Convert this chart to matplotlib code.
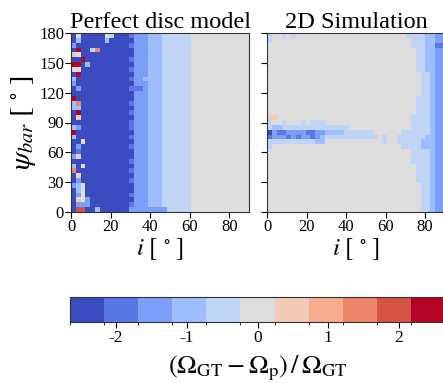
import matplotlib
matplotlib.use("Agg")
import matplotlib.pyplot as plt
import numpy as np
from matplotlib.colors import BoundaryNorm

plt.rcParams["font.family"] = ["Liberation Serif", "DejaVu Serif"]
plt.rcParams["mathtext.fontset"] = "stix"
plt.rcParams["axes.unicode_minus"] = False

# colour class of every cell
# 0..a = class index of the 11-step colour bar, rows from psi=180 (top) to psi=0
disc_rows = [
    "050000054000 1 222333 444444 555555555555",
    "030000030000 0 222333 444444 555555555555",
    "200000000000 1 222333 444444 555555555555",
    "0a0048000000 0 222333 444444 555555555555",
    "650000000000 0 222333 444444 555555555555",
    "00a000000000 1 222333 444444 555555555555",
    "aa0300000000 0 222333 444444 555555555555",
    "550000000000 1 222333 444444 555555555555",
    "0a0000000000 0 222333 444444 555555555555",
    "300000000000 1 223333 444444 555555555555",
    "200000000000 0 222333 444444 555555555555",
    "020000000000 1 112333 444444 555555555555",
    "000000000000 0 222333 444444 555555555555",
    "a00000000000 0 222333 444444 555555555555",
    "380000000000 1 222333 444444 555555555555",
    "330000000000 0 222333 444444 555555555555",
    "0a0000000000 1 222333 444444 555555555555",
    "060000000000 0 222333 444444 555555555555",
    "000000000000 1 222333 444444 555555555555",
    "320000000000 1 222333 444444 555555555555",
    "a00000000000 0 222333 444444 555555555555",
    "300000000000 1 222333 444444 555555555555",
    "005000000000 0 222333 444444 555555555555",
    "020000000000 1 222333 444444 555555555555",
    "010000000000 0 222333 444444 555555555555",
    "260000000000 0 222333 444444 555555555555",
    "000000000000 1 222333 444444 555555555555",
    "305000000000 0 222333 444444 555555555555",
    "800000000000 1 222333 444444 555555555555",
    "060000000000 0 222333 444444 555555555555",
    "020000000000 1 222333 444444 555555555555",
    "235000000000 0 222333 444444 555555555555",
    "035000000000 0 222333 444444 555555555555",
    "025000000000 1 222333 444444 555555555555",
    "065200000000 0 222333 444444 555555555555",
    "022200000000 1 222333 444444 555555555555",
    "099003000000 2 222222 244444 555555555555",
]

sim_rows = [
    "4554545555 5555555555 5555555554 4443322",
    "4555555555 5555555555 5555555555 4443322",
    "5555555555 5555555555 5555555555 4443311",
    "5555555555 5555555555 5555555555 5443322",
    "5555555555 5555555555 5555555555 5443322",
    "5555555555 5555555555 5555555555 5443322",
    "5555555555 5555555555 5555555555 5443322",
    "5555555555 5555555555 5555555555 5443322",
    "5555555555 5555555555 5555555555 5544322",
    "5555555555 5555555555 5555555555 5544322",
    "5555555555 5555555555 5555555555 5544322",
    "5555555555 5555555555 5555555555 5544322",
    "5555555555 5555555555 5555555555 5544322",
    "5555555555 5555555555 5555555555 5444322",
    "5555555555 5555555555 5555555555 5444322",
    "5555555555 5555555555 5555555555 5444322",
    "5555555555 5555555555 5555555555 5444322",
    "6655555555 5555555555 5555555555 4444322",
    "4554555454 4455555555 5555555555 4444322",
    "4334444444 4444444555 5555555555 4444322",
    "0211222211 2233334444 4455555544 4444322",
    "1222121221 2344444444 4445455444 4443322",
    "4444444444 3355555555 5555455444 4433322",
    "4555555555 5555555555 5555555544 4433322",
    "5555555555 5555555555 5555555555 4444322",
    "5555555555 5555555555 5555555555 4444322",
    "5555555555 5555555555 5555555555 4444322",
    "5555555555 5555555555 5555555555 5444322",
    "5555555555 5555555555 5555555555 5444322",
    "5555555555 5555555555 5555555555 5444322",
    "5555555555 5555555555 5555555555 5444322",
    "5555555555 5555555555 5555555555 5544322",
    "5555555555 5555555555 5555555555 5544322",
    "5555555555 5555555555 5555555555 5544322",
    "5555555555 5555555555 5555555555 5544322",
    "5555555555 5555555555 5555555555 5544322",
    "5555555555 5555555555 5555555555 5544322",
]

titles = ["Perfect disc model", "2D Simulation"]
bounds = np.linspace(-2.65, 2.65, 12)
cbar_ticks = [-2, -1, 0, 1, 2]
x_ticks = [0, 20, 40, 60, 80]
y_ticks = [0, 30, 60, 90, 120, 150, 180]


def to_grid(rows):
    centers = 0.5 * (bounds[:-1] + bounds[1:])
    grid = [[centers[int(c, 16)] for c in r.replace(" ", "")] for r in rows]
    return np.array(grid)[::-1]  # bottom row first


cmap = plt.get_cmap("coolwarm", 11)
norm = BoundaryNorm(bounds, 11)

fig = plt.figure(figsize=(4.43, 3.83), dpi=100)
ax1 = fig.add_axes([71 / 443, 171 / 383, 178 / 443, 179 / 383])
ax2 = fig.add_axes([267.3 / 443, 171 / 383, 177.3 / 443, 179 / 383])
cax = fig.add_axes([70 / 443, 61 / 383, 375 / 443, 25 / 383])

for ax, rows, title in zip([ax1, ax2], [disc_rows, sim_rows], titles):
    z = to_grid(rows)
    ny, nx = z.shape
    i_edges = np.linspace(0, 90, nx + 1)
    psi_edges = np.linspace(0, 180, ny + 1)
    mesh = ax.pcolormesh(i_edges, psi_edges, z, cmap=cmap, norm=norm)
    ax.set_xlim(0, 90)
    ax.set_ylim(0, 180)
    ax.set_xticks(x_ticks)
    ax.set_yticks(y_ticks)
    ax.tick_params(labelsize=12, length=4, width=0.8, pad=1)
    ax.set_title(title, fontsize=17.5, pad=2)
    ax.set_xlabel(r"$i\ [\,^\circ\,]$", fontsize=18, labelpad=1)
    for s in ax.spines.values():
        s.set_color("#333333")

ax1.set_ylabel(r"$\psi_{bar}\ [\,^\circ\,]$", fontsize=21, labelpad=1)
ax2.tick_params(labelleft=False)

cb = fig.colorbar(mesh, cax=cax, orientation="horizontal", ticks=cbar_ticks)
cb.ax.tick_params(labelsize=12.5, length=4, width=0.8, pad=2)
cb.outline.set_edgecolor("#333333")
cb.set_label(r"$(\Omega_{\rm GT}-\Omega_{\rm p})\,/\,\Omega_{\rm GT}$", fontsize=19, labelpad=5)

fig.savefig("out.png", dpi=100)
